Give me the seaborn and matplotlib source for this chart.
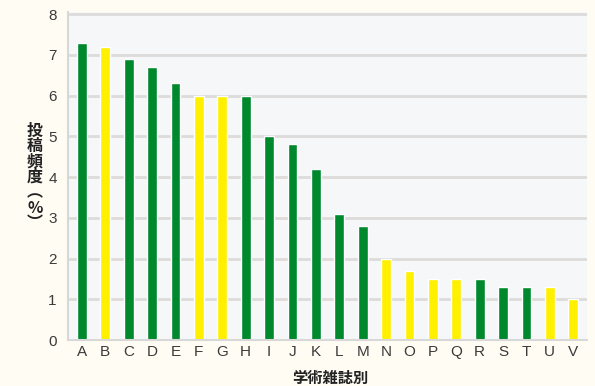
import matplotlib
matplotlib.use("Agg")
import matplotlib.pyplot as plt
import seaborn as sns
import pandas as pd

# ========== Data ==========
journals = list("ABCDEFGHIJKLMNOPQRSTUV")
freq = [7.3, 7.2, 6.9, 6.7, 6.3, 6.0, 6.0, 6.0, 5.0, 4.8, 4.2,
        3.1, 2.8, 2.0, 1.7, 1.5, 1.5, 1.5, 1.3, 1.3, 1.3, 1.0]
group = ["g", "y", "g", "g", "g", "y", "y", "g", "g", "g", "g",
         "g", "g", "y", "y", "y", "y", "g", "g", "g", "y", "y"]
yticks = [0, 1, 2, 3, 4, 5, 6, 7, 8]

df = pd.DataFrame({"journal": journals, "freq": freq, "group": group})

sns.set_style("white")
plt.rcParams["font.family"] = ["Noto Sans CJK JP", "DejaVu Sans"]

fig = plt.figure(figsize=(5.95, 3.86), dpi=100, facecolor="#fffcf4")
ax = fig.add_axes([0.114, 0.119, 0.873, 0.85])
ax.set_facecolor("#f6f7f8")

sns.barplot(data=df, x="journal", y="freq", hue="group",
            palette={"g": "#00882c", "y": "#fff000"},
            dodge=False, legend=False, width=0.42, saturation=1, ax=ax)

ax.set_ylim(0, 8.05)
ax.set_xlim(-0.6, 21.6)
ax.set_yticks(yticks)
ax.yaxis.grid(True, color="#dddcda", linewidth=2)
ax.set_axisbelow(True)
for s in ["top", "right"]:
    ax.spines[s].set_visible(False)
for s in ["left", "bottom"]:
    ax.spines[s].set_color("#d8d8d8")
    ax.spines[s].set_linewidth(1.5)
ax.tick_params(axis="both", labelsize=11, labelcolor="#3a3a3a", length=0)
ax.tick_params(axis="y", pad=8)
for lbl in ax.get_xticklabels() + ax.get_yticklabels():
    lbl.set_family("Liberation Sans")
ax.set_xlabel("")
ax.set_ylabel("")

# axis titles
fig.text(330 / 595, 1 - 378 / 386, "学術雑誌別", ha="center", va="center",
         fontsize=11, fontweight="bold", color="#222222")
fig.text(35 / 595, 1 - 177 / 386, "投\n稿\n頻\n度\n︵\n%\n︶", ha="center", va="center",
         fontsize=11.5, fontweight="bold", color="#222222", linespacing=0.95)

plt.savefig("out.png", dpi=100, facecolor=fig.get_facecolor())
